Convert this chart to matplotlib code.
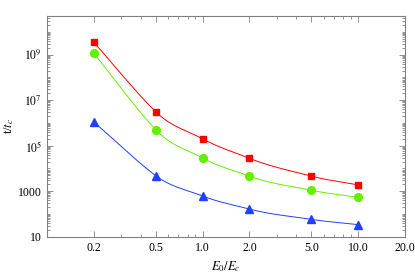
import numpy as np
import matplotlib
matplotlib.use("Agg")
import matplotlib.pyplot as plt
from matplotlib.ticker import LogLocator, FixedLocator, FixedFormatter, NullFormatter

# Data
e_ratio = [0.2, 0.5, 1.0, 2.0, 5.0, 10.0]
red_vals = [3.5e9, 3.1e6, 2.0e5, 2.8e4, 4.6e3, 1.9e3]
green_vals = [1.15e9, 5.0e5, 2.9e4, 4.6e3, 1.1e3, 540]
blue_vals = [1.1e6, 4.8e3, 620, 165, 58, 34]
x_ticks = [0.2, 0.5, 1.0, 2.0, 5.0, 10.0, 20.0]
x_tick_labels = ["0.2", "0.5", "1.0", "2.0", "5.0", "10.0", "20.0"]
y_ticks = [10, 1e3, 1e5, 1e7, 1e9]
y_tick_labels = ["10", "1000", "$10^5$", "$10^7$", "$10^9$"]

plt.rcParams['font.family'] = ['Liberation Serif', 'DejaVu Serif']
plt.rcParams['mathtext.fontset'] = 'stix'


def smooth_curve(xlin, yv, n=400):
    """Hermite curve in log-log space; tangents weighted by linear spacing."""
    xlin = np.asarray(xlin, float)
    x = np.log10(xlin)
    y = np.log10(np.asarray(yv, float))
    h = np.diff(x)
    hl = np.diff(xlin)
    delta = np.diff(y) / h
    k = len(x)
    d = np.empty(k)
    d[0] = delta[0]
    d[-1] = delta[-1]
    for i in range(1, k - 1):
        a = hl[i] ** 2
        b = hl[i - 1] ** 2
        d[i] = (a * delta[i - 1] + b * delta[i]) / (a + b)
    xs = np.linspace(x[0], x[-1], n)
    ys = np.empty_like(xs)
    for j, xv in enumerate(xs):
        i = min(np.searchsorted(x, xv, side='right') - 1, k - 2)
        t = (xv - x[i]) / h[i]
        ys[j] = ((2*t**3 - 3*t**2 + 1) * y[i] + (t**3 - 2*t**2 + t) * h[i] * d[i]
                 + (-2*t**3 + 3*t**2) * y[i + 1] + (t**3 - t**2) * h[i] * d[i + 1])
    return 10 ** xs, 10 ** ys


fig = plt.figure(figsize=(4.15, 2.74), dpi=100)
ax = fig.add_axes([0.1133, 0.136, 0.8626, 0.8056])

series = [
    (red_vals, '#FF0000', 's', 4.8),
    (green_vals, '#66EE00', 'o', 5.6),
    (blue_vals, '#2040FF', '^', 5.2),
]
for vals, col, mk, ms in series:
    cx, cy = smooth_curve(e_ratio, vals)
    ax.plot(cx, cy, color=col, lw=0.7)
    ax.plot(e_ratio, vals, linestyle='none', marker=mk, color=col, ms=ms, mec=col)

ax.set_xscale('log')
ax.set_yscale('log')
ax.set_xlim(0.1, 20.0)
ax.set_ylim(10, 10 ** 10.7)

ax.xaxis.set_major_locator(FixedLocator(x_ticks))
ax.xaxis.set_major_formatter(FixedFormatter(x_tick_labels))
ax.xaxis.set_minor_locator(LogLocator(base=10, subs=np.arange(1, 10)))
ax.xaxis.set_minor_formatter(NullFormatter())
ax.yaxis.set_major_locator(FixedLocator(y_ticks))
ax.yaxis.set_major_formatter(FixedFormatter(y_tick_labels))
ax.yaxis.set_minor_locator(LogLocator(base=10, subs=np.arange(1, 10), numticks=30))
ax.yaxis.set_minor_formatter(NullFormatter())

frame_col = '#808080'
for s in ax.spines.values():
    s.set_color(frame_col)
    s.set_linewidth(0.8)
ax.tick_params(which='both', direction='in', top=True, right=True, colors=frame_col,
               labelcolor='black', labelsize=8.5, width=0.6)
ax.tick_params(which='major', length=4)
ax.tick_params(which='minor', length=2)

ax.set_xlabel("$E_0/E_c$", fontsize=9, labelpad=4)
ax.set_ylabel("t/$t_c$", fontsize=9, labelpad=2)

fig.savefig("out.png", dpi=100)
